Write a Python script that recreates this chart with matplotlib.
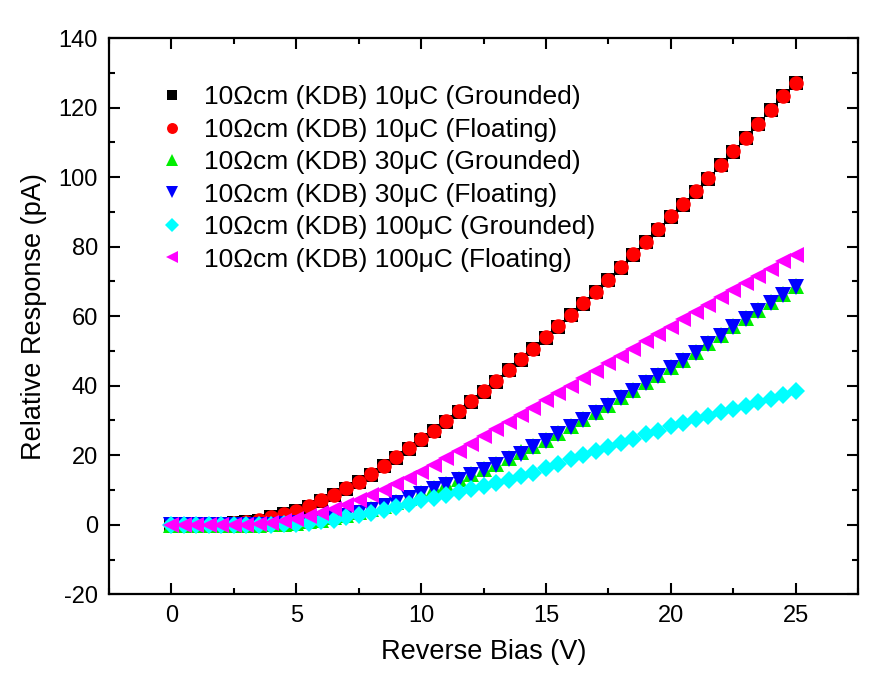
import matplotlib
matplotlib.use("Agg")
import matplotlib.pyplot as plt
from matplotlib.ticker import MultipleLocator

plt.rcParams["font.family"] = ["Liberation Sans", "DejaVu Sans"]
plt.rcParams["axes.unicode_minus"] = False

# reverse bias steps, 0 .. 25 V every 0.5 V
bias = [i * 0.5 for i in range(51)]

# 10 uC floating (red circles); grounded (black squares) sits right under it
kdb10_float = [0.0, 0.0, 0.0, 0.1, 0.2, 0.4, 0.7, 1.3, 2.2, 3.0,
               3.9, 5.3, 7.0, 8.7, 10.5, 12.3, 14.5, 16.9, 19.4, 22.0,
               24.6, 27.0, 29.8, 32.6, 35.5, 38.4, 41.3, 44.5, 47.6, 50.6,
               53.9, 57.1, 60.4, 63.7, 67.1, 70.4, 74.1, 77.8, 81.3, 85.0,
               88.7, 92.2, 95.9, 99.7, 103.5, 107.4, 111.3, 115.3, 119.3, 123.3,
               127.2]
kdb10_gnd = [0.0, 0.0, 0.0, 0.1, 0.2, 0.4, 0.7, 1.2, 2.1, 3.0,
             3.9, 5.2, 6.9, 8.6, 10.4, 12.3, 14.4, 16.8, 19.3, 21.9,
             24.5, 27.0, 29.7, 32.5, 35.4, 38.3, 41.2, 44.4, 47.5, 50.5,
             53.8, 57.0, 60.3, 63.6, 67.0, 70.3, 74.0, 77.7, 81.2, 84.9,
             88.6, 92.1, 95.8, 99.6, 103.4, 107.3, 111.2, 115.2, 119.2, 123.2,
             127.1]

# 30 uC: grounded (green) and floating (blue) nearly coincide
kdb30_float = [0.0, 0.0, 0.0, 0.0, 0.0, 0.0, 0.0, 0.0, 0.0, 0.2,
               0.4, 0.8, 1.3, 1.9, 2.6, 3.4, 4.3, 5.3, 6.4, 7.6,
               9.0, 10.2, 11.4, 12.8, 14.2, 15.7, 17.2, 18.8, 20.5, 22.3,
               24.2, 26.2, 28.1, 30.1, 32.1, 34.3, 36.6, 38.6, 40.8, 42.8,
               45.0, 47.2, 49.4, 51.9, 54.3, 56.8, 59.2, 61.5, 63.8, 66.1,
               68.5]
kdb30_gnd = [0.0, 0.0, 0.0, 0.0, 0.0, 0.0, 0.0, 0.0, 0.1, 0.3,
             0.6, 1.0, 1.5, 2.1, 2.8, 3.6, 4.5, 5.5, 6.6, 7.8,
             9.2, 10.5, 11.7, 13.1, 14.5, 16.0, 17.5, 19.1, 20.8, 22.6,
             24.5, 26.5, 28.4, 30.4, 32.4, 34.6, 36.9, 38.9, 41.1, 43.1,
             45.3, 47.5, 49.7, 52.2, 54.6, 57.1, 59.5, 61.8, 64.1, 66.4,
             68.8]

# 100 uC
kdb100_gnd = [0.0, 0.0, 0.0, 0.0, 0.0, 0.0, 0.0, 0.0, 0.0, 0.1,
              0.3, 0.6, 1.0, 1.5, 2.1, 2.8, 3.5, 4.3, 5.2, 6.1,
              7.0, 7.8, 8.6, 9.4, 10.3, 11.2, 12.1, 13.0, 14.0, 15.0,
              16.3, 17.5, 18.9, 20.0, 21.2, 22.4, 23.6, 24.8, 26.0, 27.1,
              28.3, 29.4, 30.4, 31.4, 32.4, 33.4, 34.3, 35.3, 36.3, 37.4,
              38.6]
kdb100_float = [0.0, 0.0, 0.0, 0.0, 0.0, 0.0, 0.0, 0.3, 0.6, 1.0,
                1.6, 2.4, 3.3, 4.4, 5.6, 7.0, 8.5, 10.0, 11.7, 13.4,
                15.2, 17.2, 19.2, 21.3, 23.3, 25.4, 27.5, 29.6, 31.6, 33.7,
                35.8, 37.9, 40.0, 42.1, 44.2, 46.4, 48.5, 50.7, 52.8, 55.0,
                57.0, 59.1, 61.2, 63.3, 65.5, 67.5, 69.5, 71.5, 73.6, 75.8,
                77.7]

labels = [
    "10Ωcm (KDB) 10μC (Grounded)",
    "10Ωcm (KDB) 10μC (Floating)",
    "10Ωcm (KDB) 30μC (Grounded)",
    "10Ωcm (KDB) 30μC (Floating)",
    "10Ωcm (KDB) 100μC (Grounded)",
    "10Ωcm (KDB) 100μC (Floating)",
]

fig = plt.figure(figsize=(8.76, 6.8), dpi=100)
ax = fig.add_axes([0.1245, 0.126, 0.855, 0.818])

series = [
    (kdb10_gnd, "s", "black", 10),
    (kdb10_float, "o", "red", 10.5),
    (kdb30_gnd, "^", "#00ee00", 11),
    (kdb30_float, "v", "blue", 11),
    (kdb100_gnd, "D", "cyan", 9.5),
    (kdb100_float, "<", "magenta", 11),
]
for (vals, mk, col, ms), lab in zip(series, labels):
    ax.plot(bias, vals, linestyle="none", marker=mk, color=col,
            markersize=ms, markeredgewidth=0, label=lab)

ax.set_xlim(-2.5, 27.5)
ax.set_ylim(-20, 140)
ax.xaxis.set_major_locator(MultipleLocator(5))
ax.xaxis.set_minor_locator(MultipleLocator(2.5))
ax.yaxis.set_major_locator(MultipleLocator(20))
ax.yaxis.set_minor_locator(MultipleLocator(10))
ax.tick_params(which="both", direction="in", top=True, right=True,
               width=1.5, labelsize=17)
ax.tick_params(which="major", length=8, pad=8)
ax.tick_params(which="minor", length=4)
for sp in ax.spines.values():
    sp.set_linewidth(1.6)

ax.set_xlabel("Reverse Bias (V)", fontsize=19.5, labelpad=8)
ax.set_ylabel("Relative Response (pA)", fontsize=19.5, labelpad=8)

leg = ax.legend(loc="upper left", bbox_to_anchor=(0.067, 0.915),
                frameon=False, fontsize=19, handlelength=1.0,
                handletextpad=0.7, labelspacing=0.32, borderpad=0,
                borderaxespad=0, markerscale=0.75)

fig.savefig("out.png", dpi=100)
